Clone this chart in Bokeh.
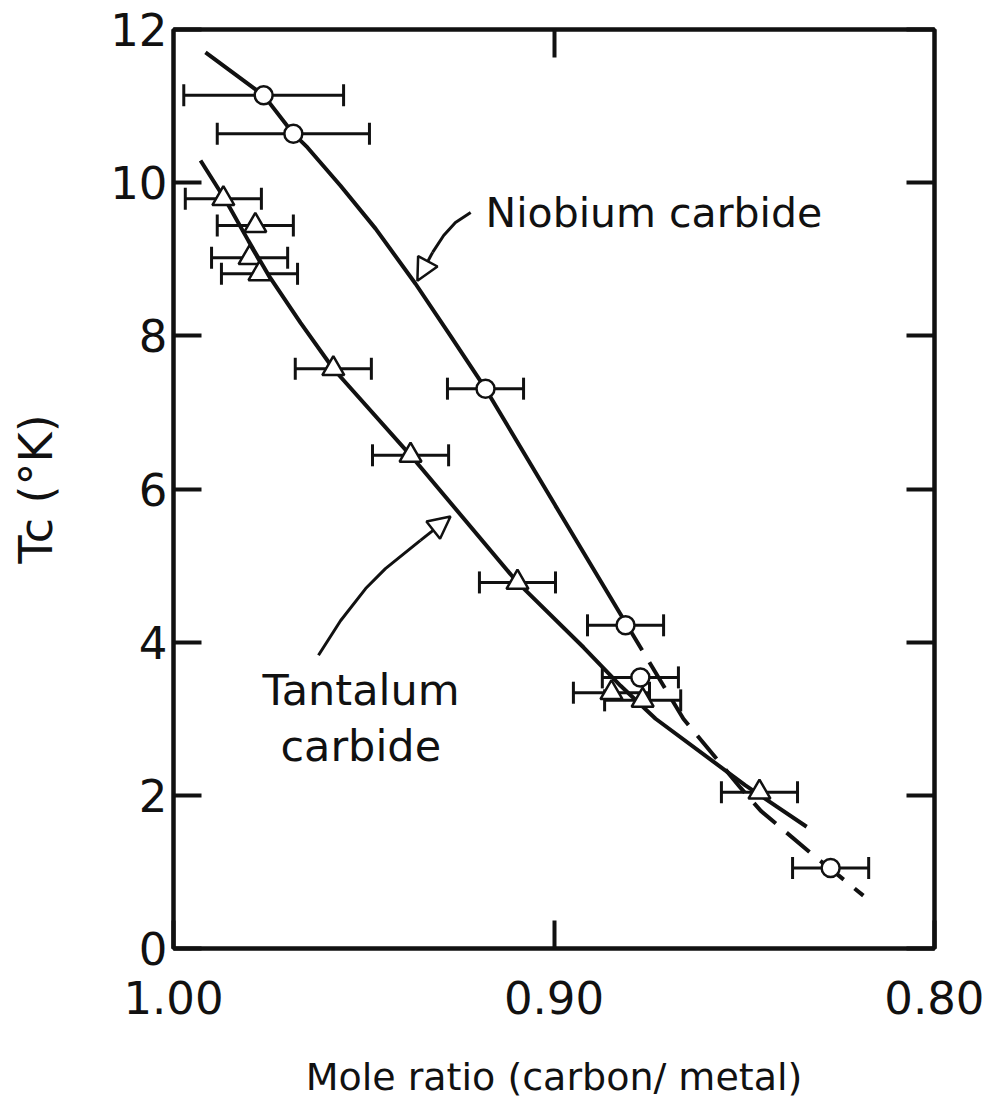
from bokeh.plotting import figure
from bokeh.models import (Range1d, FixedTicker, LinearAxis, Whisker, TeeHead, ColumnDataSource,
                          Label, Arrow, NormalHead)
from bokeh.embed import file_html
from bokeh.resources import INLINE

# ---- data ----
nb_x = [0.9763, 0.9685, 0.918, 0.8812, 0.8773, 0.8273]
nb_y = [11.14, 10.64, 7.31, 4.22, 3.54, 1.05]
nb_err = [0.021, 0.020, 0.010, 0.010, 0.010, 0.010]

ta_x = [0.9869, 0.9785, 0.980, 0.9774, 0.958, 0.9377, 0.9096, 0.8849, 0.8767, 0.846]
ta_y = [9.79, 9.44, 9.02, 8.81, 7.57, 6.44, 4.78, 3.34, 3.24, 2.04]
ta_err = [0.010, 0.010, 0.010, 0.010, 0.010, 0.010, 0.010, 0.010, 0.010, 0.010]

# hand-drawn curves
nb_curve_x = [0.9916, 0.9763, 0.9685, 0.9648, 0.9561, 0.9469, 0.9364, 0.9272, 0.918, 0.8996, 0.8809]
nb_curve_y = [11.70, 11.14, 10.64, 10.46, 9.96, 9.40, 8.68, 8.00, 7.31, 5.78, 4.23]
nb_curve2_x = [0.8809, 0.8660, 0.8510, 0.8457, 0.8307, 0.8273, 0.8187]
nb_curve2_y = [4.23, 3.00, 2.10, 1.80, 1.17, 1.04, 0.69]

ta_curve_x = [0.9929, 0.9863, 0.9803, 0.9750, 0.9666, 0.9580, 0.9377, 0.9096, 0.8922, 0.8825,
              0.8733, 0.8497, 0.8336]
ta_curve_y = [10.29, 9.77, 9.24, 8.79, 8.17, 7.57, 6.44, 4.78, 3.93, 3.43, 3.00, 2.13, 1.59]

x_ticks = [1.00, 0.90, 0.80]
x_tick_labels = ["1.00", "0.90", "0.80"]
y_ticks = [0, 2, 4, 6, 8, 10, 12]

# annotation arrows
nb_arrow_x = [0.9219, 0.9259, 0.9290, 0.9319, 0.9359]
nb_arrow_y = [9.61, 9.48, 9.31, 9.09, 8.72]
ta_arrow_x = [0.9619, 0.9561, 0.9495, 0.9443, 0.9351, 0.9272]
ta_arrow_y = [3.83, 4.28, 4.70, 4.96, 5.33, 5.64]

INK = "#111111"
FONT = "DejaVu Sans"

p = figure(output_backend="svg", toolbar_location=None,
           frame_width=761, frame_height=919,
           min_border_left=173, min_border_right=50, min_border_top=29, min_border_bottom=150,
           x_range=Range1d(1.0, 0.8), y_range=Range1d(0, 12),
           x_axis_location="below", y_axis_location="left")
p.grid.visible = False
p.outline_line_color = INK
p.outline_line_width = 4

def style_axis(ax, show_labels):
    ax.axis_line_color = INK
    ax.axis_line_width = 4
    ax.major_tick_in = 28
    ax.major_tick_out = 0
    ax.major_tick_line_width = 4
    ax.major_tick_line_color = INK
    ax.minor_tick_line_color = None
    ax.major_label_text_font = FONT
    ax.major_label_text_font_size = "45px"
    ax.major_label_text_color = INK if show_labels else None

xa = p.xaxis[0]
xa.ticker = FixedTicker(ticks=x_ticks)
xa.major_label_overrides = {t: l for t, l in zip(x_ticks, x_tick_labels)}
style_axis(xa, True)
xa.major_label_standoff = 32
xa.axis_label = "Mole ratio (carbon/ metal)"
xa.axis_label_text_font = FONT
xa.axis_label_text_font_style = "normal"
xa.axis_label_text_font_size = "38px"
xa.axis_label_text_color = INK
xa.axis_label_standoff = 38

ya = p.yaxis[0]
ya.ticker = FixedTicker(ticks=y_ticks)
style_axis(ya, True)
ya.major_label_standoff = 6
ya.axis_label = "Tc (°K)"
ya.axis_label_text_font = FONT
ya.axis_label_text_font_style = "normal"
ya.axis_label_text_font_size = "46px"
ya.axis_label_text_color = INK
ya.axis_label_standoff = 44

top = LinearAxis(ticker=FixedTicker(ticks=[0.90]))
style_axis(top, False)
p.add_layout(top, "above")
right = LinearAxis(ticker=FixedTicker(ticks=y_ticks))
style_axis(right, False)
p.add_layout(right, "right")

# curves
p.line(nb_curve_x, nb_curve_y, line_width=4, line_color=INK)
p.line(nb_curve2_x, nb_curve2_y, line_width=4, line_color=INK, line_dash="30 14")
p.line(ta_curve_x, ta_curve_y, line_width=4, line_color=INK)

# error bars
for xs, ys, es in [(nb_x, nb_y, nb_err), (ta_x, ta_y, ta_err)]:
    src = ColumnDataSource(dict(y=ys, lo=[x - e for x, e in zip(xs, es)],
                                hi=[x + e for x, e in zip(xs, es)]))
    w = Whisker(base="y", lower="lo", upper="hi", dimension="width", source=src,
                line_width=3, line_color=INK,
                upper_head=TeeHead(size=22, line_width=3, line_color=INK),
                lower_head=TeeHead(size=22, line_width=3, line_color=INK))
    p.add_layout(w)

# markers
p.scatter(nb_x, nb_y, marker="circle", size=18, fill_color="white", line_color=INK, line_width=2.5)
p.scatter(ta_x, ta_y, marker="triangle", size=22, fill_color="white", line_color=INK, line_width=2.5)

# annotation arrows
p.line(nb_arrow_x[:-1], nb_arrow_y[:-1], line_width=3, line_color=INK)
p.add_layout(Arrow(x_start=nb_arrow_x[-2], y_start=nb_arrow_y[-2], x_end=nb_arrow_x[-1], y_end=nb_arrow_y[-1],
                   line_width=3, line_color=INK,
                   end=NormalHead(size=22, fill_color="white", line_color=INK, line_width=2.5)))
p.line(ta_arrow_x[:-1], ta_arrow_y[:-1], line_width=3, line_color=INK)
p.add_layout(Arrow(x_start=ta_arrow_x[-2], y_start=ta_arrow_y[-2], x_end=ta_arrow_x[-1], y_end=ta_arrow_y[-1],
                   line_width=3, line_color=INK,
                   end=NormalHead(size=22, fill_color="white", line_color=INK, line_width=2.5)))

def lab(x, y, text, size, **kw):
    p.add_layout(Label(x=x, y=y, text=text, text_font=FONT, text_font_size=size,
                       text_color=INK, **kw))

lab(0.918, 9.6, "Niobium carbide", "41px", text_baseline="middle", text_align="left")
lab(0.9766, 3.37, "Tantalum", "43px", text_baseline="middle", text_align="left")
lab(0.9719, 2.65, "carbide", "43px", text_baseline="middle", text_align="left")

open("out.html", "w").write(file_html(p, INLINE))
